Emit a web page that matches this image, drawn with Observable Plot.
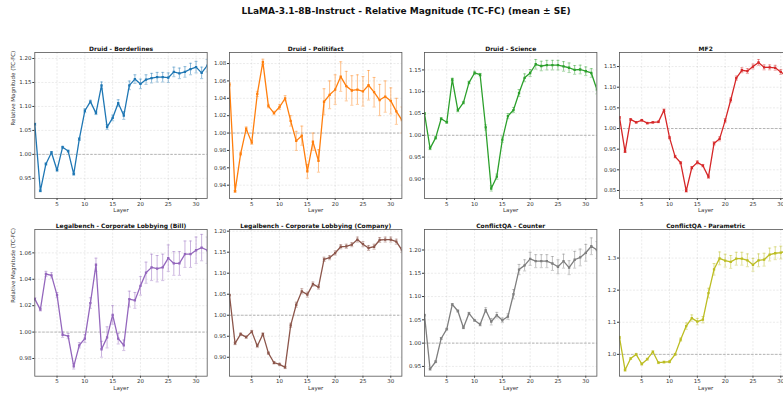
<!DOCTYPE html>
<html><head><meta charset="utf-8">
<script src="https://cdn.jsdelivr.net/npm/d3@7"></script>
<script src="https://cdn.jsdelivr.net/npm/@observablehq/plot@0.6"></script>
<style>
html,body{margin:0;padding:0;width:783px;height:399px;overflow:hidden;background:#fff}
#chart{position:relative;width:783px;height:399px;overflow:hidden;font-family:"DejaVu Sans",sans-serif}
#title{position:absolute;left:0;width:812px;top:6px;text-align:center;font-weight:bold;font-size:9px;color:#111;line-height:11px;white-space:nowrap}
.panel{position:absolute}
.panel svg{max-width:none !important}
</style></head><body>
<div id="chart">
<div id="title">LLaMA-3.1-8B-Instruct - Relative Magnitude (TC-FC) (mean ± SE)</div>
</div>
<script>
const layers = d3.range(1, 33);
const xTicks = [5, 10, 15, 20, 25, 30];
const panelTitles = ["Druid - Borderlines", "Druid - Politifact", "Druid - Science", "MF2",
  "Legalbench - Corporate Lobbying (Bill)", "Legalbench - Corporate Lobbying (Company)", "ConflictQA - Counter", "ConflictQA - Parametric"];
const colors = ["#1f77b4", "#ff7f0e", "#2ca02c", "#d62728", "#9467bd", "#8c564b", "#7f7f7f", "#bcbd22"];

const borderlinesMean = [1.063,0.924,0.980,1.004,0.967,1.015,1.007,0.959,1.032,1.091,1.110,1.086,1.144,1.057,1.076,1.107,1.081,1.144,1.157,1.147,1.156,1.159,1.161,1.161,1.160,1.172,1.169,1.172,1.178,1.182,1.170,1.185];
const borderlinesSE = [0.002,0.002,0.002,0.002,0.002,0.002,0.002,0.002,0.003,0.004,0.003,0.003,0.007,0.005,0.006,0.007,0.008,0.009,0.009,0.010,0.010,0.010,0.010,0.010,0.010,0.010,0.011,0.011,0.012,0.012,0.012,0.013];
const politifactMean = [1.056,0.933,0.976,1.005,0.989,1.045,1.082,1.031,1.023,1.030,1.040,1.014,0.991,0.997,0.956,0.990,0.968,1.036,1.044,1.050,1.065,1.054,1.049,1.050,1.048,1.055,1.047,1.038,1.042,1.037,1.025,1.015];
const politifactSE = [0.002,0.001,0.002,0.002,0.002,0.003,0.003,0.002,0.002,0.003,0.003,0.006,0.011,0.011,0.008,0.010,0.013,0.015,0.016,0.017,0.017,0.017,0.017,0.017,0.017,0.017,0.017,0.018,0.018,0.015,0.015,0.015];
const scienceMean = [1.050,0.970,0.994,1.038,1.030,1.128,1.057,1.075,1.121,1.143,1.139,1.018,0.878,0.905,0.990,1.044,1.058,1.097,1.132,1.143,1.163,1.159,1.161,1.161,1.161,1.158,1.155,1.150,1.151,1.147,1.143,1.105];
const scienceSE = [0.002,0.003,0.003,0.002,0.002,0.003,0.003,0.003,0.003,0.004,0.003,0.006,0.006,0.006,0.006,0.006,0.006,0.008,0.009,0.008,0.011,0.011,0.011,0.011,0.011,0.011,0.011,0.010,0.010,0.010,0.010,0.010];
const mf2Mean = [1.027,0.944,1.022,1.015,1.020,1.013,1.015,1.016,1.044,0.978,0.932,0.917,0.849,0.905,0.918,0.910,0.883,0.964,0.975,1.019,1.069,1.122,1.141,1.139,1.150,1.160,1.148,1.148,1.147,1.137,1.128,1.120];
const mf2SE = [0.002,0.002,0.002,0.002,0.002,0.002,0.002,0.002,0.003,0.003,0.003,0.003,0.003,0.003,0.004,0.003,0.004,0.004,0.005,0.005,0.005,0.005,0.006,0.006,0.006,0.007,0.006,0.006,0.006,0.006,0.006,0.006];
const billMean = [1.025,1.017,1.044,1.043,1.028,0.998,0.997,0.974,0.990,0.995,1.022,1.051,0.987,0.996,1.013,0.995,0.990,1.025,1.024,1.035,1.045,1.049,1.048,1.049,1.056,1.052,1.052,1.059,1.059,1.062,1.064,1.062];
const billSE = [0.001,0.001,0.002,0.002,0.002,0.002,0.002,0.002,0.002,0.003,0.004,0.005,0.006,0.008,0.007,0.004,0.004,0.006,0.006,0.007,0.008,0.010,0.010,0.010,0.010,0.009,0.009,0.010,0.010,0.010,0.010,0.010];
const companyMean = [1.048,0.933,0.955,0.948,0.961,0.927,0.955,0.910,0.887,0.883,0.876,0.976,1.025,1.057,1.049,1.074,1.067,1.133,1.137,1.148,1.163,1.164,1.168,1.180,1.169,1.160,1.163,1.179,1.180,1.180,1.175,1.155];
const companySE = [0.002,0.003,0.003,0.003,0.003,0.004,0.003,0.003,0.003,0.003,0.003,0.005,0.006,0.006,0.006,0.005,0.005,0.005,0.005,0.005,0.005,0.005,0.005,0.006,0.006,0.006,0.006,0.006,0.006,0.006,0.006,0.006];
const counterMean = [1.060,0.944,0.960,1.010,1.030,1.083,1.069,1.033,1.064,1.049,1.040,1.071,1.046,1.060,1.049,1.057,1.105,1.158,1.167,1.181,1.176,1.176,1.176,1.171,1.164,1.176,1.162,1.179,1.184,1.194,1.208,1.200];
const counterSE = [0.002,0.002,0.002,0.002,0.002,0.002,0.002,0.002,0.002,0.002,0.003,0.005,0.007,0.006,0.005,0.006,0.010,0.011,0.012,0.014,0.014,0.014,0.014,0.015,0.015,0.015,0.015,0.018,0.018,0.018,0.018,0.018];
const parametricMean = [1.053,0.951,0.987,1.000,0.970,0.985,1.008,0.974,0.976,0.977,1.000,1.046,1.088,1.113,1.102,1.108,1.191,1.265,1.299,1.292,1.288,1.298,1.298,1.293,1.279,1.293,1.295,1.311,1.315,1.317,1.322,1.325];
const parametricSE = [0.003,0.003,0.003,0.003,0.003,0.003,0.003,0.003,0.003,0.003,0.003,0.005,0.010,0.010,0.010,0.010,0.015,0.018,0.020,0.020,0.020,0.020,0.020,0.020,0.020,0.020,0.020,0.020,0.020,0.020,0.020,0.020];

const yTicksList = [
  [0.95,1.00,1.05,1.10,1.15,1.20],
  [0.94,0.96,0.98,1.00,1.02,1.04,1.06,1.08],
  [0.90,0.95,1.00,1.05,1.10,1.15],
  [0.85,0.90,0.95,1.00,1.05,1.10,1.15],
  [0.98,1.00,1.02,1.04,1.06],
  [0.90,0.95,1.00,1.05,1.10,1.15,1.20],
  [0.95,1.00,1.05,1.10,1.15,1.20],
  [1.0,1.1,1.2,1.3]
];
const yDomains = [
  [0.908,1.2125],[0.9247,1.0927],[0.855,1.19],[0.8306,1.184],
  [0.9666,1.0777],[0.855,1.204],[0.929,1.244],[0.932,1.389]
];
const means = [borderlinesMean, politifactMean, scienceMean, mf2Mean, billMean, companyMean, counterMean, parametricMean];
const ses = [borderlinesSE, politifactSE, scienceSE, mf2SE, billSE, companySE, counterSE, parametricSE];

const root = document.getElementById("chart");
for (let i = 0; i < 8; i++) {
  const col = i % 4, row = Math.floor(i / 4);
  const frameLeft = 34.3 + col * 194.8;
  const frameTop = row === 0 ? 52.3 : 229.3;
  const frameH = row === 0 ? 146 : 146.7;
  const frameW = 172.4;
  const ml = col === 0 ? frameLeft : 30;
  const mt = 14, mb = 22, mr = 4;
  const color = colors[i];
  const data = layers.map((l, j) => ({layer: l, mean: means[i][j], se: ses[i][j]}));
  const dec = i === 7 ? 1 : 2;
  const marks = [
    Plot.gridX(xTicks, {stroke: "#bbb", strokeOpacity: 0.6, strokeDasharray: "2,1.5", strokeWidth: 0.5}),
    Plot.gridY(yTicksList[i], {stroke: "#bbb", strokeOpacity: 0.6, strokeDasharray: "2,1.5", strokeWidth: 0.5}),
    Plot.ruleY([1], {stroke: "#999", strokeDasharray: "2.5,1.5", strokeWidth: 0.7}),
    Plot.ruleX(data, {x: "layer", y1: d => d.mean - d.se, y2: d => d.mean + d.se, stroke: color, strokeOpacity: 0.5, strokeWidth: 1, clip: true}),
    Plot.link(data, {x1: d => d.layer - 0.28, x2: d => d.layer + 0.28, y1: d => d.mean + d.se, y2: d => d.mean + d.se, stroke: color, strokeOpacity: 0.5, strokeWidth: 0.8, clip: true}),
    Plot.link(data, {x1: d => d.layer - 0.28, x2: d => d.layer + 0.28, y1: d => d.mean - d.se, y2: d => d.mean - d.se, stroke: color, strokeOpacity: 0.5, strokeWidth: 0.8, clip: true}),
    Plot.line(data, {x: "layer", y: "mean", stroke: color, strokeWidth: 1.3, clip: true}),
    Plot.dot(data, {x: "layer", y: "mean", fill: color, r: 1.3, symbol: "square", clip: true}),
    Plot.frame({stroke: "#555", strokeWidth: 0.8}),
    Plot.text([panelTitles[i]], {frameAnchor: "top", dy: -6, fontWeight: "bold", fontSize: 6, fill: "#111"}),
    Plot.text(["Layer"], {frameAnchor: "bottom", dy: 13.7, fontSize: 5.5, fill: "#333"})
  ];
  if (col === 0) {
    marks.push(Plot.text(["Relative Magnitude (TC-FC)"], {frameAnchor: "left", dx: 13 - frameLeft, rotate: -90, fontSize: 5.5, fill: "#333"}));
  }
  const W = frameW + ml + mr, H = frameH + mt + mb;
  const p = Plot.plot({
    width: W, height: H,
    marginLeft: ml, marginRight: mr, marginTop: mt, marginBottom: mb,
    style: {fontFamily: "DejaVu Sans", fontSize: "5.5px", color: "#333", overflow: "visible", background: "transparent", maxWidth: "none"},
    x: {domain: [1, 32], ticks: xTicks, tickSize: 2, tickPadding: 1.3, label: null},
    y: {domain: yDomains[i], ticks: yTicksList[i], tickFormat: d => d.toFixed(dec), tickSize: 2, tickPadding: 1.3, label: null},
    marks
  });
  p.setAttribute("width", W);
  p.setAttribute("height", H);
  p.style.width = W + "px";
  p.style.height = H + "px";
  const wrap = document.createElement("div");
  wrap.className = "panel";
  wrap.style.left = (frameLeft - ml) + "px";
  wrap.style.top = (frameTop - mt) + "px";
  wrap.style.width = W + "px";
  wrap.style.height = H + "px";
  wrap.appendChild(p);
  root.appendChild(wrap);
}
</script>
</body></html>
